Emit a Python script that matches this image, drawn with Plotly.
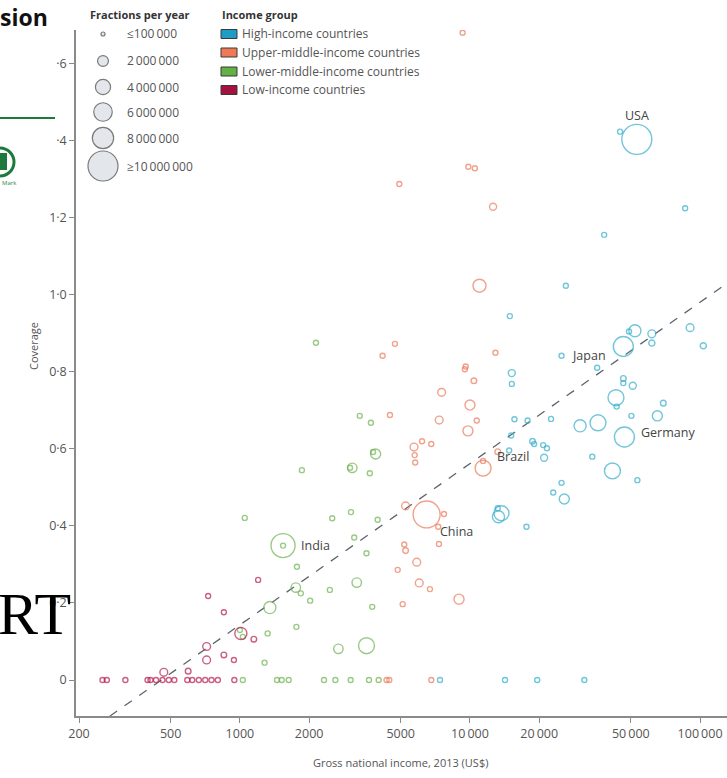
import math
import plotly.graph_objects as go

# ---------------- data ----------------
gni_high = [44900, 53100, 86100, 38300, 26100, 14900, 52100, 49100, 61700, 61700, 90500, 103300,
            46400, 25000, 15200, 15200, 35700, 46400, 46400, 51000, 43100, 43400, 69200, 15600,
            17800, 22500, 50300, 65200, 30100, 36000, 46900, 15100, 18700, 19000, 20800, 21600,
            14800, 21000, 34000, 41600, 53400, 25000, 23000, 25700, 13700, 13300, 13200, 17600,
            7410, 14200, 19600, 31400]
cov_high = [1.424, 1.404, 1.225, 1.156, 1.024, 0.945, 0.907, 0.905, 0.899, 0.875, 0.915, 0.868,
            0.866, 0.842, 0.797, 0.769, 0.811, 0.783, 0.771, 0.764, 0.733, 0.710, 0.719, 0.677,
            0.674, 0.678, 0.686, 0.686, 0.660, 0.668, 0.631, 0.635, 0.620, 0.613, 0.610, 0.602,
            0.596, 0.577, 0.580, 0.543, 0.519, 0.512, 0.487, 0.470, 0.433, 0.424, 0.446, 0.398,
            0, 0, 0, 0]
frac_high = [0.1, 16, 0.1, 0.1, 0.1, 0.1, 2.5, 0.1, 1.0, 0.6, 1.0, 0.6,
             7.0, 0.1, 0.8, 0.3, 0.1, 0.5, 0.1, 0.8, 4.4, 0.1, 0.5, 0.1,
             0.1, 0.1, 0.1, 1.7, 2.5, 4.4, 7.0, 0.1, 0.5, 0.1, 0.3, 0.1,
             0.1, 0.8, 0.1, 4.4, 0.1, 0.1, 0.1, 1.7, 3.9, 2.5, 0.1, 0.1,
             0.1, 0.1, 0.1, 0.1]

gni_um = [9290, 9840, 10500, 4930, 12600, 11000, 4720, 4170, 12900, 9580, 9500, 10400,
          7530, 4490, 10000, 7350, 10700, 9800, 5710, 6190, 6790, 5750, 5780, 13200,
          11400, 11400, 5250, 6480, 7710, 7280, 5180, 5250, 7330, 5870, 4850, 6020,
          6700, 5100, 8960, 4340, 4460, 6790]
cov_um = [1.681, 1.333, 1.329, 1.288, 1.229, 1.024, 0.873, 0.842, 0.850, 0.814, 0.807, 0.777,
          0.747, 0.688, 0.714, 0.675, 0.674, 0.647, 0.605, 0.620, 0.613, 0.584, 0.565, 0.593,
          0.550, 0.569, 0.452, 0.430, 0.431, 0.398, 0.352, 0.336, 0.353, 0.306, 0.286, 0.252,
          0.236, 0.197, 0.210, 0, 0, 0]
frac_um = [0.1, 0.1, 0.1, 0.1, 0.8, 2.9, 0.1, 0.1, 0.1, 0.1, 0.1, 0.5,
           1.0, 0.1, 1.7, 1.0, 0.1, 1.7, 1.0, 0.1, 0.1, 0.1, 0.1, 0.5,
           4.4, 0.1, 1.0, 12.9, 0.1, 0.1, 0.1, 0.5, 0.1, 1.0, 0.1, 1.0,
           0.1, 0.1, 1.7, 0.1, 0.1, 0.1]

gni_lm = [2140, 3320, 3710, 3890, 3790, 3080, 3010, 1860, 3670, 1050,
          3040, 2520, 3970, 1540, 1540, 3140, 3550, 1770, 1750, 1840,
          2460, 3220, 2020, 3760, 1350, 1760, 1320, 1000, 1030, 2680,
          3550, 1280, 1030, 1450, 1520, 1630, 2320, 2600, 3030, 3640, 4010]
cov_lm = [0.876, 0.686, 0.668, 0.587, 0.592, 0.551, 0.551, 0.545, 0.537, 0.421,
          0.436, 0.420, 0.416, 0.349, 0.349, 0.370, 0.329, 0.294, 0.240, 0.225,
          0.234, 0.253, 0.206, 0.190, 0.188, 0.138, 0.121, 0.130, 0.112, 0.081,
          0.089, 0.045, 0, 0, 0, 0, 0, 0, 0, 0, 0]
frac_lm = [0.1, 0.1, 0.1, 1.7, 0.1, 1.5, 0.1, 0.1, 0.1, 0.1,
           0.1, 0.1, 0.1, 10.2, 0.1, 0.1, 0.1, 0.1, 1.5, 0.1,
           0.1, 1.5, 0.1, 0.1, 2.5, 0.1, 0.1, 0.1, 0.1, 1.5,
           4.4, 0.1, 0.1, 0.1, 0.1, 0.1, 0.1, 0.1, 0.1, 0.1, 0.1]

gni_low = [1200, 728, 852, 1010, 1150, 717, 717, 852, 942, 467, 596,
           253, 264, 318, 397, 409, 432, 461, 491, 519, 591, 621, 663, 707, 753, 802, 946]
cov_low = [0.260, 0.218, 0.176, 0.121, 0.106, 0.087, 0.052, 0.065, 0.052, 0.020, 0.023,
           0, 0, 0, 0, 0, 0, 0, 0, 0, 0, 0, 0, 0, 0, 0, 0]
frac_low = [0.1, 0.1, 0.1, 2.5, 0.5, 1.0, 1.0, 0.5, 0.1, 1.0, 0.5,
            0.4, 0.4, 0.4, 0.4, 0.4, 0.4, 0.4, 0.4, 0.4, 0.4, 0.4, 0.4, 0.4, 0.4, 0.4, 0.4]

group_names = ["High-income countries", "Upper-middle-income countries",
               "Lower-middle-income countries", "Low-income countries"]

# labelled countries: (name, group index, point index)
labelled = [("USA", 0, 1), ("Japan", 0, 12), ("Germany", 0, 30),
            ("Brazil", 1, 24), ("China", 1, 27), ("India", 2, 13)]

# bubble-size legend (fractions per year, millions)
size_legend_labels = ["\u2264100\u2009000", "2\u2009000\u2009000", "4\u2009000\u2009000",
                      "6\u2009000\u2009000", "8\u2009000\u2009000", "\u226510\u2009000\u2009000"]
size_legend_values = [0.1, 2, 4, 6, 8, 16]

# fitted trend line: coverage = a + b*log10(GNI)
trend_intercept = -1.114
trend_slope = 0.419
trend_gni = [272, 131000]

x_tickvals = [200, 500, 1000, 2000, 5000, 10000, 20000, 50000, 100000]
x_ticktext = ["200", "500", "1000", "2000", "5000", "10\u2009000", "20\u2009000",
              "50\u2009000", "100\u2009000"]
y_tickvals = [0, 0.2, 0.4, 0.6, 0.8, 1.0, 1.2, 1.4, 1.6]
y_ticktext = ["0", "0\u00b72", "0\u00b74", "0\u00b76", "0\u00b78", "1\u00b70", "1\u00b72",
              "\u00b74", "\u00b76"]

# ---------------- styling ----------------
W, H = 727, 778
ML, MR, MT, MB = 76, 0, 30, 62
PW, PH = W - ML - MR, H - MT - MB
FONT = "Open Sans"
ring_colors = ["#36aecb", "#ec7b5c", "#6fb552", "#b51d4e"]
swatch_colors = ["#1f9cc6", "#ef7a55", "#63b045", "#a6123f"]


def pxX(px):
    return (px - ML) / PW


def pxY(py):
    return (H - MB - py) / PH


def diam(f):
    return 2 * max(2.5, 0.2 + 3.7 * math.sqrt(f))


groups = [(gni_high, cov_high, frac_high), (gni_um, cov_um, frac_um),
          (gni_lm, cov_lm, frac_lm), (gni_low, cov_low, frac_low)]

fig = go.Figure()

# trend line
fig.add_trace(go.Scatter(
    x=trend_gni, y=[trend_intercept + trend_slope * math.log10(g) for g in trend_gni],
    mode="lines", line=dict(color="#5d6470", width=1.3, dash="dash"),
    hoverinfo="skip", showlegend=False))

for gi, (gx, gy, gf) in enumerate(groups):
    fig.add_trace(go.Scatter(
        x=gx, y=gy, mode="markers", name=group_names[gi], showlegend=False,
        marker=dict(size=[diam(f) for f in gf], symbol="circle",
                    color="rgba(255,255,255,0)",
                    line=dict(color=ring_colors[gi], width=1.4))))

annotations = []
label_offsets = {"USA": (0, -24, "center"), "Japan": (-15, 9, "right"),
                 "Germany": (15, -5, "left"), "Brazil": (12, -12, "left"),
                 "China": (11, 17, "left"), "India": (16, 0, "left")}
for name, gi, idx in labelled:
    gx, gy, gf = groups[gi]
    dx, dy, anc = label_offsets[name]
    annotations.append(dict(x=math.log10(gx[idx]), y=gy[idx], xref="x", yref="y",
                            text=name, showarrow=False, xanchor=anc, yanchor="middle",
                            xshift=dx, yshift=-dy,
                            font=dict(family=FONT, size=12.5, color="#444")))

shapes = []
# size legend
annotations.append(dict(x=pxX(88), y=pxY(14), xref="paper", yref="paper",
                        text="<b>Fractions per year</b>", showarrow=False,
                        xanchor="left", yanchor="middle",
                        font=dict(family=FONT, size=11, color="#333")))
size_rows_y = [34, 61, 87, 112, 138, 166]
for lab, val, ry in zip(size_legend_labels, size_legend_values, size_rows_y):
    r = diam(val) / 2 if val > 0.1 else 2
    shapes.append(dict(type="circle", xref="paper", yref="paper",
                       xsizemode="pixel", ysizemode="pixel",
                       xanchor=pxX(103), yanchor=pxY(ry), x0=-r, x1=r, y0=-r, y1=r,
                       fillcolor="#e3e6ea", line=dict(color="#7a7a7a", width=1.2)))
    annotations.append(dict(x=pxX(125), y=pxY(ry), xref="paper", yref="paper",
                            text=lab, showarrow=False, xanchor="left", yanchor="middle",
                            font=dict(family=FONT, size=12, color="#555")))

# income group legend
annotations.append(dict(x=pxX(220), y=pxY(14), xref="paper", yref="paper",
                        text="<b>Income group</b>", showarrow=False,
                        xanchor="left", yanchor="middle",
                        font=dict(family=FONT, size=11, color="#333")))
for gi, ry in enumerate([34, 52.5, 71.5, 90]):
    shapes.append(dict(type="rect", xref="paper", yref="paper",
                       x0=pxX(221), x1=pxX(237), y0=pxY(ry + 4.5), y1=pxY(ry - 4.5),
                       fillcolor=swatch_colors[gi], line=dict(color="#3a3a3a", width=1)))
    annotations.append(dict(x=pxX(240), y=pxY(ry), xref="paper", yref="paper",
                            text=group_names[gi], showarrow=False,
                            xanchor="left", yanchor="middle",
                            font=dict(family=FONT, size=12, color="#555")))

# axis titles
annotations.append(dict(x=pxX(400), y=pxY(762), xref="paper", yref="paper",
                        text="Gross national income, 2013 (US$)", showarrow=False,
                        xanchor="center", yanchor="middle",
                        font=dict(family=FONT, size=11, color="#555")))
annotations.append(dict(x=pxX(33), y=pxY(346), xref="paper", yref="paper",
                        text="Coverage", showarrow=False, textangle=-90,
                        xanchor="center", yanchor="middle",
                        font=dict(family=FONT, size=11, color="#555")))

# page fragments visible at the left edge of the screenshot
annotations.append(dict(x=pxX(-2), y=pxY(17), xref="paper", yref="paper",
                        text="<b>sion</b>", showarrow=False, xanchor="left", yanchor="middle",
                        font=dict(family=FONT, size=23, color="#111")))
shapes.append(dict(type="line", xref="paper", yref="paper",
                   x0=pxX(0), x1=pxX(55), y0=pxY(118), y1=pxY(118),
                   line=dict(color="#1e7a3c", width=2)))
shapes.append(dict(type="circle", xref="paper", yref="paper",
                   x0=pxX(-14), x1=pxX(14), y0=pxY(176), y1=pxY(148),
                   fillcolor="white", line=dict(color="#1e7a3c", width=3)))
shapes.append(dict(type="rect", xref="paper", yref="paper",
                   x0=pxX(-2), x1=pxX(7), y0=pxY(170), y1=pxY(153),
                   fillcolor="#1e7a3c", line=dict(width=0)))
annotations.append(dict(x=pxX(0), y=pxY(183), xref="paper", yref="paper",
                        text="Mark", showarrow=False, xanchor="left", yanchor="middle",
                        font=dict(family=FONT, size=6, color="#2e8a4c")))
annotations.append(dict(x=pxX(73), y=pxY(614), xref="paper", yref="paper",
                        text="RT", showarrow=False, xanchor="right", yanchor="middle",
                        font=dict(family="Liberation Serif", size=60, color="#000")))

axis_common = dict(showgrid=False, zeroline=False, showline=True, linecolor="#8a8a8a",
                   linewidth=1.5, ticks="outside", ticklen=5, tickcolor="#8a8a8a",
                   tickwidth=1.2, tickfont=dict(family=FONT, size=12.5, color="#555"))

fig.update_layout(
    width=W, height=H, margin=dict(l=ML, r=MR, t=MT, b=MB),
    paper_bgcolor="white", plot_bgcolor="white", showlegend=False,
    xaxis=dict(type="log", range=[math.log10(194), 5.117], tickvals=x_tickvals,
               ticktext=x_ticktext, automargin=False, **axis_common),
    yaxis=dict(range=[-0.0935, 1.688], tickvals=y_tickvals, ticktext=y_ticktext,
               automargin=False, **axis_common),
    annotations=annotations, shapes=shapes,
)

fig.write_html("out.html", config={"displayModeBar": False},
               post_script="document.body.style.margin='0';document.body.style.overflow='hidden';")
